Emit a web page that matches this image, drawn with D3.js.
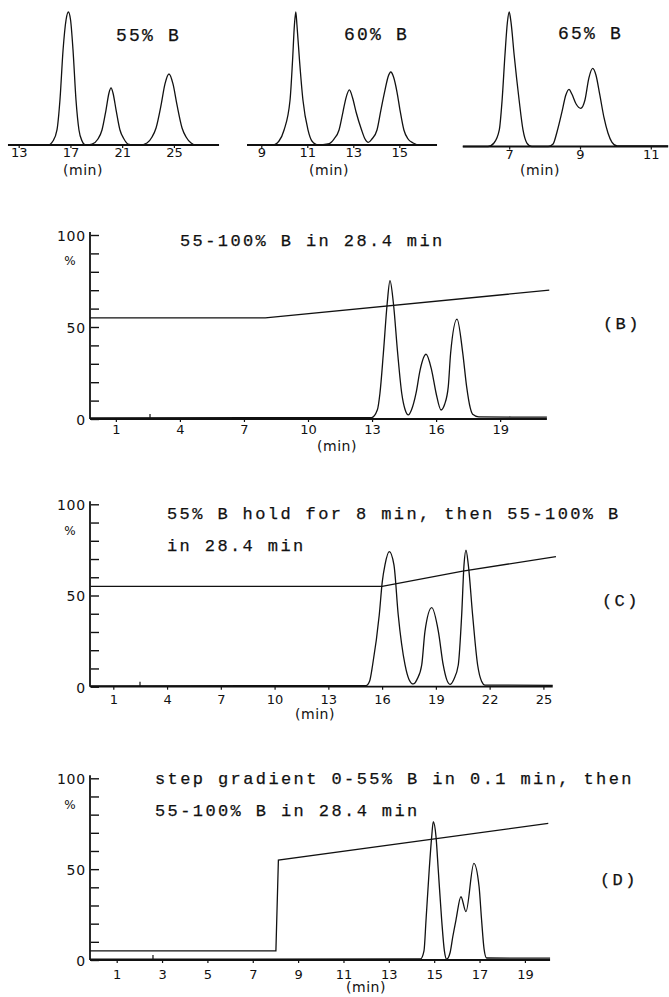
<!DOCTYPE html>
<html>
<head>
<meta charset="utf-8">
<script src="https://cdn.jsdelivr.net/npm/d3@7"></script>
<style>
  html, body { margin: 0; padding: 0; background: #fff; }
  svg { display: block; }
  .mono { font-family: "Liberation Mono", "DejaVu Sans Mono", monospace; fill: #111; stroke: #111; stroke-width: 0.25; }
  .tick-lab { font-family: "DejaVu Sans", sans-serif; fill: #111; }
</style>
</head>
<body>
<svg id="chart" width="669" height="997"></svg>
<script>
// ---- isocratic runs: [time (min), detector response (% of largest peak)] ----
const isoLabels = ["55% B", "60% B", "65% B"];
const isoTicks = [[13, 17, 21, 25], [9, 11, 13, 15], [7, 9, 11]];

const iso55 = [[12.17,0],[15.27,0],[15.65,3],[15.96,11.3],[16.19,33.8],[16.43,71.4],[16.66,94],[16.84,100],
  [17.01,94],[17.20,71.4],[17.43,33.8],[17.66,11.3],[17.90,3],[18.15,0],[18.67,0.75],[19.13,4.5],[19.44,11.3],
  [19.75,26.3],[19.98,39.1],[20.14,42.9],[20.29,39.1],[20.53,26.3],[20.83,11.3],[21.14,4.5],[21.45,0.75],
  [22.0,0],[22.38,0],[22.92,1.5],[23.31,6],[23.62,12.8],[24.01,30.1],[24.31,45.9],[24.62,53.4],[24.93,45.9],
  [25.24,30.1],[25.63,12.8],[25.94,6],[26.33,1.5],[26.71,0],[28.49,0]];

const iso60 = [[8.38,0],[9.51,0],[9.77,3],[9.99,11.3],[10.25,33.8],[10.36,63.9],[10.44,90.2],[10.50,100],
  [10.55,90.2],[10.66,63.9],[10.81,33.8],[11.03,11.3],[11.20,3],[11.47,0],[11.90,0.75],[12.16,4.5],[12.38,11.3],
  [12.55,24.8],[12.68,35.3],[12.83,41.4],[12.97,35.3],[13.12,24.8],[13.36,11.3],[13.51,4.5],[13.65,1.9],
  [13.81,4.5],[14.03,11.3],[14.20,26.3],[14.38,41.4],[14.51,51.1],[14.63,54.9],[14.75,51.1],[14.90,39.8],
  [15.03,26.3],[15.20,11.3],[15.38,4.5],[15.60,1.5],[15.90,0],[16.64,0]];

const iso65 = [[5.69,0],[6.40,0],[6.57,2.6],[6.72,12.3],[6.80,34.6],[6.88,68],[6.95,92.6],[7.00,100],
  [7.05,92.6],[7.14,68],[7.28,34.6],[7.39,12.3],[7.50,2.6],[7.64,0],[8.10,0],[8.24,1.9],[8.35,10.8],
  [8.49,25.7],[8.60,38.3],[8.69,42.5],[8.77,39.0],[8.89,31.6],[9.02,28.4],[9.14,34.6],[9.25,50.9],
  [9.36,58.1],[9.45,53.2],[9.56,38.3],[9.68,21.2],[9.79,10],[9.90,3.3],[10.05,0.4],[11.49,0.4]];

// ---- gradient runs: detector trace and %B programme ----
const titleB = ["55-100% B in 28.4 min"];
const titleC = ["55% B hold for 8 min, then 55-100% B", "in 28.4 min"];
const titleD = ["step gradient 0-55% B in 0.1 min, then", "55-100% B in 28.4 min"];
const tagB = "(B)", tagC = "(C)", tagD = "(D)";

const ticksB = [1, 4, 7, 10, 13, 16, 19];
const ticksC = [1, 4, 7, 10, 13, 16, 19, 22, 25];
const ticksD = [1, 3, 5, 7, 9, 11, 13, 15, 17, 19];
const pctTicks = [0, 10, 20, 30, 40, 50, 60, 70, 80, 90, 100];
const pctLabels = [0, 50, 100];

const traceB = [[-0.21,0.6],[12.98,0.8],[13.25,5],[13.37,14],[13.53,35.7],[13.71,62.9],[13.84,75.2],[14.00,62.9],
  [14.20,35.7],[14.39,14],[14.55,5],[14.70,2.2],[14.85,5],[15.06,14],[15.25,26.6],[15.53,35.2],[15.79,26.6],
  [16.00,14],[16.23,4.9],[16.40,8],[16.57,17.6],[16.68,35.7],[16.98,54.3],[17.25,35.7],[17.43,17.6],
  [17.60,6],[17.71,2.6],[18.0,1.2],[21.19,1.0]];
const gradB = [[-0.21,55],[8,55],[21.3,70]];

const traceC = [[-0.26,0.5],[15.10,0.6],[15.30,3],[15.47,11.9],[15.84,39.3],[16.01,57.6],[16.16,66.8],[16.40,74],
  [16.66,66.8],[16.90,39.3],[17.28,11.9],[17.50,4],[17.74,1.5],[17.95,4],[18.21,11.9],[18.39,30.2],[18.77,43.3],
  [19.14,30.2],[19.41,11.9],[19.60,4],[19.79,1.3],[20.0,4],[20.25,11.9],[20.44,39.3],[20.57,66.8],[20.68,74.9],
  [20.81,66.8],[21.05,39.3],[21.33,11.9],[21.55,3],[21.74,0.9],[25.52,0.7]];
const gradC = [[-0.26,55],[16,55],[20.5,63.4],[25.7,71.3]];

const traceD = [[-0.18,0.4],[14.40,0.6],[14.55,5],[14.64,22],[14.78,49.5],[14.89,67.9],[14.96,76.1],[15.08,67.9],
  [15.18,49.5],[15.33,22],[15.45,5],[15.55,0.5],[15.70,4],[15.82,12.8],[15.96,22],[16.18,34.8],[16.40,26.6],
  [16.75,53.2],[16.98,40.3],[17.09,22],[17.20,6],[17.31,1.1],[20.11,1.0]];
const gradD = [[-0.18,5],[8.02,5],[8.13,55],[20.03,75.2]];

// injection marks on the time axis (min)
const injectB = 2.6, injectC = 2.49, injectD = 2.6;

// ---------------------------------------------------------------
const svg = d3.select("#chart");
svg.append("rect").attr("width", 669).attr("height", 997).attr("fill", "#fff");

const traceLine = (x, y) => d3.line().x(d => x(d[0])).y(d => y(d[1])).curve(d3.curveMonotoneX);
const straightLine = (x, y) => d3.line().x(d => x(d[0])).y(d => y(d[1]));

function monoText(g, str, x, y, size, spacing) {
  g.append("text").attr("class", "mono")
    .attr("x", x).attr("y", y).attr("dy", "0.35em")
    .attr("font-size", size).attr("letter-spacing", spacing)
    .text(str);
}

function timeAxis(g, x, baseY, ticks, pad, x0, x1, minX, minY) {
  g.append("line").attr("x1", x0).attr("x2", x1).attr("y1", baseY).attr("y2", baseY)
    .attr("stroke", "#111").attr("stroke-width", 1.8);
  const ax = d3.axisBottom(x).tickValues(ticks).tickFormat(d3.format("d"))
    .tickSize(3).tickPadding(pad).tickSizeOuter(0);
  const a = g.append("g").attr("transform", `translate(0,${baseY})`).call(ax);
  a.select(".domain").remove();
  a.selectAll(".tick line").attr("stroke", "#111").attr("stroke-width", 1.2);
  a.selectAll(".tick text").attr("class", "tick-lab").attr("font-size", 13).attr("fill", "#111");
  a.attr("font-family", null).attr("font-size", null);
  g.append("text").attr("class", "tick-lab").attr("x", minX).attr("y", minY).attr("dy", "0.35em")
    .attr("text-anchor", "middle").attr("font-size", 14).attr("letter-spacing", 0.5).text("(min)");
}

// ---- isocratic panels ----
const isoSeries = [iso55, iso60, iso65];
const isoLayout = [
  { dom: [13, 25], rng: [18.7, 173.9], base: 145, top: 12, labX: 116, labY: 35, minX: 83 },
  { dom: [9, 15], rng: [261.3, 399.3], base: 145, top: 12, labX: 344, labY: 34, minX: 329 },
  { dom: [7, 11], rng: [509.2, 650.8], base: 146.5, top: 12, labX: 558, labY: 33, minX: 540 }
];
isoSeries.forEach((data, i) => {
  const L = isoLayout[i];
  const g = svg.append("g");
  const x = d3.scaleLinear().domain(L.dom).range(L.rng);
  const y = d3.scaleLinear().domain([0, 100]).range([L.base, L.top]);
  const first = data[0][0], last = data[data.length - 1][0];
  timeAxis(g, x, L.base, isoTicks[i], 0, x(first), x(last), L.minX, 170);
  g.append("path").datum(data).attr("d", traceLine(x, y)).attr("fill", "none")
    .attr("stroke", "#111").attr("stroke-width", 1.3).attr("stroke-linejoin", "round");
  monoText(g, isoLabels[i], L.labX, L.labY, 18, 2.2);
});

// ---- gradient panels ----
const gradPanels = [
  { trace: traceB, grad: gradB, ticks: ticksB, title: titleB, tag: tagB, inject: injectB,
    dom: [1, 19], rng: [115.85, 500.15], y0: 419, y100: 235, pad: 3, titleX: 180, titleY: [240],
    tagX: 603, tagY: 323, minX: 337, minY: 446 },
  { trace: traceC, grad: gradC, ticks: ticksC, title: titleC, tag: tagC, inject: injectC,
    dom: [1, 25], rng: [113.3, 543.4], y0: 686.7, y100: 504.3, pad: 5, titleX: 167, titleY: [513, 545],
    tagX: 602, tagY: 600, minX: 315, minY: 714 },
  { trace: traceD, grad: gradD, ticks: ticksD, title: titleD, tag: tagD, inject: injectD,
    dom: [1, 19], rng: [116.7, 524.9], y0: 960, y100: 778.3, pad: 7, titleX: 155, titleY: [778, 810],
    tagX: 600, tagY: 879, minX: 366, minY: 987 }
];

gradPanels.forEach(P => {
  const g = svg.append("g");
  const x = d3.scaleLinear().domain(P.dom).range(P.rng);
  const y = d3.scaleLinear().domain([0, 100]).range([P.y0, P.y100]);
  const axX = 90;
  const last = P.trace[P.trace.length - 1][0];

  // %B axis, ticks pointing into the plot
  g.append("line").attr("x1", axX).attr("x2", axX).attr("y1", y(0)).attr("y2", y(100) - 3)
    .attr("stroke", "#111").attr("stroke-width", 1.8);
  const ya = d3.axisRight(y).tickValues(pctTicks).tickSize(8).tickFormat("");
  const yg = g.append("g").attr("transform", `translate(${axX + 1},0)`).call(ya);
  yg.select(".domain").remove();
  yg.selectAll(".tick line").attr("stroke", "#111").attr("stroke-width", 1.4);
  pctLabels.forEach(v => {
    g.append("text").attr("class", "tick-lab").attr("x", 86).attr("y", y(v) + 1).attr("dy", "0.35em")
      .attr("text-anchor", "end").attr("font-size", 14).attr("letter-spacing", 0.8).text(v);
  });
  g.append("text").attr("class", "tick-lab").attr("x", 70).attr("y", y(100) + 26).attr("dy", "0.35em")
    .attr("text-anchor", "middle").attr("font-size", 12).text("%");

  timeAxis(g, x, P.y0, P.ticks, P.pad, axX, x(last), P.minX, P.minY);

  // injection mark
  g.append("line").attr("x1", x(P.inject)).attr("x2", x(P.inject))
    .attr("y1", P.y0).attr("y2", P.y0 - 5).attr("stroke", "#111").attr("stroke-width", 1.2);

  // %B programme
  g.append("path").datum(P.grad).attr("d", straightLine(x, y)).attr("fill", "none")
    .attr("stroke", "#111").attr("stroke-width", 1.3);
  // detector trace
  g.append("path").datum(P.trace).attr("d", traceLine(x, y)).attr("fill", "none")
    .attr("stroke", "#111").attr("stroke-width", 1.3).attr("stroke-linejoin", "round");

  P.title.forEach((t, k) => monoText(g, t, P.titleX, P.titleY[k], 17, 2.4));
  monoText(g, P.tag, P.tagX, P.tagY, 17, 2.4);
});
</script>
</body>
</html>
